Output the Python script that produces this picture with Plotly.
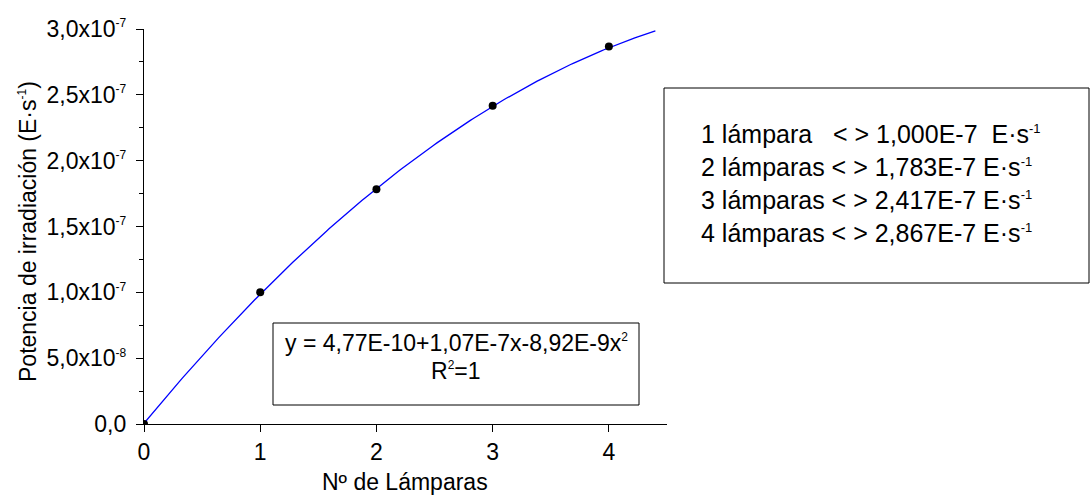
import numpy as np
import plotly.graph_objects as go

# ---- data ----
lamps = [0, 1, 2, 3, 4]
power = [0.0, 1.000e-7, 1.783e-7, 2.417e-7, 2.867e-7]
fit_coef = [-8.92e-9, 1.07e-7, 4.77e-10]   # a x^2 + b x + c (as printed on the chart)
fit_x_max = 4.4
y_tickvals = [0, 5e-8, 1e-7, 1.5e-7, 2e-7, 2.5e-7, 3e-7]
y_mant = ["0,0", "5,0", "1,0", "1,5", "2,0", "2,5", "3,0"]
y_exp = [None, "-8", "-7", "-7", "-7", "-7", "-7"]
x_tickvals = [0, 1, 2, 3, 4]
legend_n = ["1 lámpara&nbsp;&nbsp;&nbsp;", "2 lámparas ", "3 lámparas ", "4 lámparas "]
legend_v = ["1,000E-7&nbsp;&nbsp;", "1,783E-7 ", "2,417E-7 ", "2,867E-7 "]

FONT = "Liberation Sans, Arial, sans-serif"
FS = 23
FS_BOX = 25
SUP = 12


def sup(t, size=SUP):
    return f"<sup><span style='font-size:{size}px'>{t}</span></sup>"


y_ticktext = [m if e is None else f"{m}x10{sup(e)}" for m, e in zip(y_mant, y_exp)]
legend_lines = [f"{n}&lt; &gt; {v}E·s{sup('-1', 13)}" for n, v in zip(legend_n, legend_v)]
eq_lines = [f"y = 4,77E-10+1,07E-7x-8,92E-9x{sup('2')}", f"R{sup('2')}=1"]

# plot area in pixels
L, R, T, B = 144, 667, 29, 424
W, H = 1092, 497
pw, ph = R - L, B - T


def px(xp):
    return (xp - L) / pw


def py(yp):
    return (B - yp) / ph


fx = np.linspace(0, fit_x_max, 200)
fy = np.polyval(fit_coef, fx)

fig = go.Figure()
fig.add_trace(go.Scatter(x=fx, y=fy, mode="lines",
                         line=dict(color="#0000ff", width=1.3), hoverinfo="skip"))
fig.add_trace(go.Scatter(x=lamps, y=power, mode="markers",
                         marker=dict(color="black", size=8)))

fig.update_layout(
    width=W, height=H,
    margin=dict(l=L, r=W - R, t=T, b=H - B, pad=0),
    plot_bgcolor="white", paper_bgcolor="white",
    showlegend=False,
    font=dict(family=FONT, size=FS, color="black"),
)
fig.update_xaxes(range=[0, 4.5], tickvals=x_tickvals, ticktext=[str(v) for v in x_tickvals],
                 showgrid=False, zeroline=False, showline=True, linecolor="black", linewidth=1.3,
                 ticks="outside", ticklen=7, tickwidth=1.3, tickcolor="black",
                 tickfont=dict(size=FS))
fig.update_yaxes(range=[0, 3e-7], tickvals=y_tickvals, ticktext=y_ticktext,
                 showgrid=False, zeroline=False, showline=True, linecolor="black", linewidth=1.3,
                 ticks="outside", ticklen=7, tickwidth=1.3, tickcolor="black",
                 tickfont=dict(size=FS), ticklabelstandoff=5,
                 minor=dict(dtick=2.5e-8, ticks="outside", ticklen=4, tickwidth=1.3,
                            tickcolor="black", showgrid=False))

# axis titles
fig.add_annotation(x=px(405), y=py(482), xref="paper", yref="paper",
                   text="Nº de Lámparas", showarrow=False, font=dict(size=FS),
                   xanchor="center", yanchor="middle")
fig.add_annotation(x=px(28), y=py(232), xref="paper", yref="paper",
                   text=f"Potencia de irradiación (E·s{sup('-1')})", showarrow=False,
                   textangle=-90, font=dict(size=FS), xanchor="center", yanchor="middle")

# equation box
fig.add_shape(type="rect", xref="paper", yref="paper",
              x0=px(273), x1=px(639), y0=py(405), y1=py(323),
              line=dict(color="black", width=1), fillcolor="white", layer="above")
fig.add_annotation(x=px(456), y=py(343), xref="paper", yref="paper", text=eq_lines[0],
                   showarrow=False, font=dict(size=FS), xanchor="center", yanchor="middle")
fig.add_annotation(x=px(456), y=py(371), xref="paper", yref="paper", text=eq_lines[1],
                   showarrow=False, font=dict(size=FS), xanchor="center", yanchor="middle")

# values box
fig.add_shape(type="rect", xref="paper", yref="paper",
              x0=px(664), x1=px(1089), y0=py(283), y1=py(88),
              line=dict(color="black", width=1), fillcolor="white", layer="above")
for i, t in enumerate(legend_lines):
    fig.add_annotation(x=px(699), y=py(134 + 33 * i), xref="paper", yref="paper", text=t,
                       showarrow=False, font=dict(size=FS_BOX), xanchor="left", yanchor="middle")

fig.write_html("out.html")
